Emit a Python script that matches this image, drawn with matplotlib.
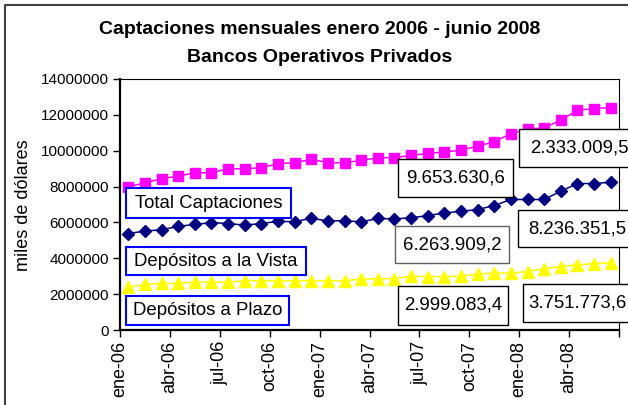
import matplotlib.pyplot as plt
from matplotlib.patches import Rectangle
from matplotlib.lines import Line2D
from matplotlib.ticker import FuncFormatter
import numpy as np

plt.rcParams['font.family'] = ['Liberation Sans', 'DejaVu Sans']

# datos (miles de dolares)
meses = ['ene-06', 'feb-06', 'mar-06', 'abr-06', 'may-06', 'jun-06',
         'jul-06', 'ago-06', 'sep-06', 'oct-06', 'nov-06', 'dic-06',
         'ene-07', 'feb-07', 'mar-07', 'abr-07', 'may-07', 'jun-07',
         'jul-07', 'ago-07', 'sep-07', 'oct-07', 'nov-07', 'dic-07',
         'ene-08', 'feb-08', 'mar-08', 'abr-08', 'may-08', 'jun-08']

total = [7.99, 8.21, 8.44, 8.58, 8.77, 8.77, 8.99, 8.99, 9.05, 9.28,
         9.33, 9.52, 9.33, 9.33, 9.46, 9.61, 9.61, 9.74, 9.85, 9.93,
         10.02, 10.26, 10.50, 10.95, 11.20, 11.28, 11.70, 12.26, 12.35, 12.41]
vista = [5.38, 5.52, 5.59, 5.78, 5.89, 5.99, 5.94, 5.85, 5.94, 6.06,
         6.04, 6.23, 6.08, 6.10, 6.03, 6.22, 6.20, 6.26, 6.38, 6.53,
         6.62, 6.72, 6.94, 7.28, 7.28, 7.28, 7.74, 8.17, 8.17, 8.24]
plazo = [2.38, 2.54, 2.60, 2.60, 2.67, 2.67, 2.67, 2.75, 2.75, 2.75,
         2.75, 2.75, 2.75, 2.75, 2.84, 2.86, 2.86, 3.00, 2.98, 2.98,
         2.99, 3.12, 3.17, 3.18, 3.26, 3.42, 3.54, 3.64, 3.70, 3.75]

etiquetas_series = ['Total Captaciones', 'Depósitos a la Vista', 'Depósitos a Plazo']
etiquetas_valores = ['9.653.630,6', '2.333.009,5', '6.263.909,2',
                     '8.236.351,5', '2.999.083,4', '3.751.773,6']

W, H = 628, 405


def fx(x):
    return x / W


def fy(y):
    return 1 - y / H


fig = plt.figure(figsize=(W / 100, H / 100), dpi=100)
fig.patch.set_facecolor('white')

ax = fig.add_axes([fx(120), fy(330), (619 - 120) / W, (330 - 79) / H])

x = np.arange(len(meses)) + 0.5
millon = 1e6
ax.plot(x, np.array(total) * millon, color='#FF00FF', lw=1.1,
        marker='s', ms=7.2, mec='#FF00FF', mfc='#FF00FF')
ax.plot(x, np.array(vista) * millon, color='#000080', lw=1.1,
        marker='D', ms=5.8, mec='#000080', mfc='#000080')
ax.plot(x, np.array(plazo) * millon, color='#FFFF00', lw=1.1,
        marker='^', ms=8.5, mec='#FFFF00', mfc='#FFFF00')

ax.set_xlim(0, len(meses))
ax.set_ylim(0, 14e6)
ax.set_yticks(np.arange(0, 14e6 + 1, 2e6))
ax.yaxis.set_major_formatter(FuncFormatter(lambda v, p: '%d' % v))
ticks_x = np.arange(0, len(meses) + 1, 3)
ax.set_xticks(ticks_x)
ax.set_xticklabels(meses[::3] + [''], rotation=90)

ax.tick_params(axis='y', direction='out', length=5, width=1, labelsize=11, pad=3)
ax.tick_params(axis='x', direction='out', length=5, width=1, labelsize=13, pad=3)

for lado in ['left', 'bottom']:
    ax.spines[lado].set_linewidth(1.6)
for lado in ['top', 'right']:
    ax.spines[lado].set_linewidth(0.8)

# titulo y eje
fig.text(fx(320), fy(30), 'Captaciones mensuales enero 2006 - junio 2008',
         ha='center', va='center', fontsize=14, fontweight='bold')
fig.text(fx(320), fy(57), 'Bancos Operativos Privados',
         ha='center', va='center', fontsize=14, fontweight='bold')
fig.text(fx(24), fy(205), 'miles de dólares', rotation=90,
         ha='center', va='center', fontsize=13)

# borde exterior del grafico
fig.add_artist(Line2D([fx(5), fx(5), 1], [0, fy(5), fy(5)],
                      transform=fig.transFigure, color='#404040', lw=1.5))


def caja(x0, y0, x1, y1, texto, borde, tx=None, lw=1.0):
    r = Rectangle((fx(x0), fy(y1)), fx(x1) - fx(x0), fy(y0) - fy(y1),
                  transform=fig.transFigure, facecolor='white',
                  edgecolor=borde, lw=lw, zorder=5)
    fig.add_artist(r)
    if tx is None:
        fig.text(fx((x0 + x1) / 2), fy((y0 + y1) / 2), texto, ha='center',
                 va='center', fontsize=13.4, zorder=6)
    else:
        fig.text(fx(tx), fy((y0 + y1) / 2), texto, ha='left',
                 va='center', fontsize=13.4, zorder=6)


# cajas de nombres de series
caja(126, 188, 291, 218, etiquetas_series[0], '#0000FF', lw=1.5)
caja(126, 247, 306, 275, etiquetas_series[1], '#0000FF', lw=1.5)
caja(126, 296, 289, 325, etiquetas_series[2], '#0000FF', lw=1.5)

# cajas de valores
caja(398, 159, 513, 197, etiquetas_valores[0], 'black')
caja(519, 129, 660, 167, etiquetas_valores[1], 'black', tx=530)
caja(395, 226, 509, 263, etiquetas_valores[2], '#606060')
caja(518, 210, 660, 247, etiquetas_valores[3], 'black', tx=528)
caja(398, 286, 508, 325, etiquetas_valores[4], 'black')
caja(523, 284, 660, 322, etiquetas_valores[5], 'black', tx=528)

fig.savefig('out.png', dpi=100)
